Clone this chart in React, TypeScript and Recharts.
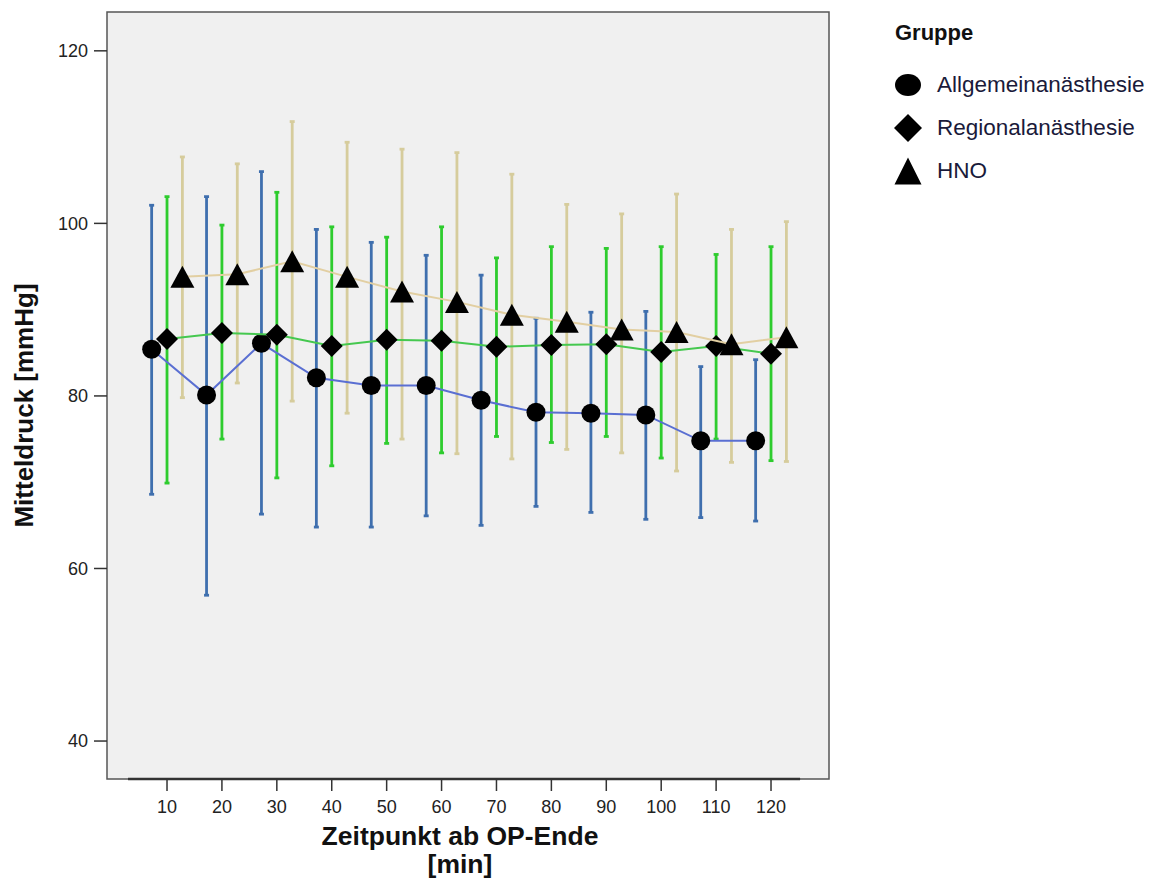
import React from "react";
import {
  ScatterChart,
  Scatter,
  XAxis,
  YAxis,
  CartesianGrid,
  ErrorBar,
  ReferenceArea,
  ReferenceLine,
  Legend,
  Label,
} from "recharts";

// Zeitpunkte (min) ab OP-Ende
const TIMES = [10, 20, 30, 40, 50, 60, 70, 80, 90, 100, 110, 120];
const Y_TICKS = [40, 60, 80, 100, 120];

// Mittelwerte und Fehlerbalken (unten / oben) je Gruppe, mmHg
const allgMean = [85.4, 80.1, 86.1, 82.1, 81.2, 81.2, 79.5, 78.1, 78.0, 77.8, 74.8, 74.8];
const allgLow = [68.6, 56.9, 66.3, 64.8, 64.8, 66.1, 65.0, 67.2, 66.5, 65.7, 65.9, 65.5];
const allgHigh = [102.1, 103.1, 106.0, 99.3, 97.8, 96.3, 94.0, 89.0, 89.7, 89.8, 83.4, 84.2];

const regMean = [86.6, 87.3, 87.1, 85.8, 86.5, 86.4, 85.7, 85.9, 86.0, 85.1, 85.8, 84.9];
const regLow = [69.9, 75.0, 70.5, 71.9, 74.5, 73.4, 75.3, 74.6, 75.3, 72.8, 75.0, 72.5];
const regHigh = [103.1, 99.8, 103.6, 99.6, 98.4, 99.6, 96.0, 97.3, 97.1, 97.3, 96.4, 97.3];

const hnoMean = [93.8, 94.1, 95.6, 93.8, 92.1, 90.9, 89.4, 88.6, 87.7, 87.4, 86.0, 86.8];
const hnoLow = [79.8, 81.5, 79.4, 78.0, 75.0, 73.3, 72.7, 73.8, 73.4, 71.3, 72.3, 72.4];
const hnoHigh = [107.7, 106.9, 111.8, 109.4, 108.6, 108.2, 105.7, 102.2, 101.1, 103.4, 99.3, 100.2];

const GROUPS = ["Allgemeinanästhesie", "Regionalanästhesie", "HNO"];

// side-by-side dodge of the three groups (in minutes)
const DODGE = 2.8;
const X_DOMAIN: [number, number] = [-0.93, 130.56];
const Y_DOMAIN: [number, number] = [35.6, 124.5];

const FONT = '"Liberation Sans", Arial, sans-serif';

function build(mean: number[], low: number[], high: number[], shift: number) {
  return TIMES.map((t, i) => ({
    x: t + shift,
    y: mean[i],
    err: [mean[i] - low[i], high[i] - mean[i]],
  }));
}

const allgData = build(allgMean, allgLow, allgHigh, -DODGE);
const regData = build(regMean, regLow, regHigh, 0);
const hnoData = build(hnoMean, hnoLow, hnoHigh, DODGE);

function CircleMark({ cx, cy, r = 9.5 }: any) {
  return <ellipse cx={cx} cy={cy} rx={r} ry={r} fill="#000" />;
}

function DiamondMark({ cx, cy, s = 11 }: any) {
  return (
    <polygon
      points={`${cx},${cy - s} ${cx + s},${cy} ${cx},${cy + s} ${cx - s},${cy}`}
      fill="#000"
    />
  );
}

function TriangleMark({ cx, cy, w = 24, h = 22 }: any) {
  return (
    <polygon
      points={`${cx},${cy - h / 2} ${cx + w / 2},${cy + h / 2} ${cx - w / 2},${cy + h / 2}`}
      fill="#000"
    />
  );
}

function LegendIcon({ idx }: { idx: number }) {
  return (
    <svg width={32} height={32} style={{ position: "absolute", left: 12, top: -16 }}>
      {idx === 0 && <ellipse cx={16} cy={16} rx={13} ry={11} fill="#000" />}
      {idx === 1 && <DiamondMark cx={16} cy={16} s={14} />}
      {idx === 2 && <TriangleMark cx={16} cy={16} w={27} h={27} />}
    </svg>
  );
}

function GroupLegend() {
  return (
    <div style={{ position: "relative", width: 270, height: 200, fontFamily: FONT }}>
      <div
        style={{
          position: "absolute",
          left: 15,
          top: 20,
          fontSize: 22,
          lineHeight: "26px",
          fontWeight: "bold",
          color: "#111",
        }}
      >
        Gruppe
      </div>
      {GROUPS.map((g, i) => (
        <div key={g} style={{ position: "absolute", left: 0, top: 85 + i * 43 }}>
          <LegendIcon idx={i} />
          <div
            style={{
              position: "absolute",
              left: 57,
              top: -13,
              fontSize: 22.5,
              lineHeight: "26px",
              whiteSpace: "nowrap",
              color: "#1a1a3a",
            }}
          >
            {g}
          </div>
        </div>
      ))}
    </div>
  );
}

const TICK = { fill: "#222", fontSize: 18, fontFamily: FONT };

export default function App() {
  return (
    <div
      style={{
        position: "absolute",
        left: 0,
        top: 0,
        width: 1150,
        height: 879,
        background: "#fff",
        fontFamily: FONT,
      }}
    >
      <ScatterChart
        width={1150}
        height={879}
        margin={{ top: 12, right: 321, left: 0, bottom: 0 }}
      >
        <CartesianGrid fill="#f0f0f0" horizontal={false} vertical={false} />
        <XAxis
          type="number"
          dataKey="x"
          domain={X_DOMAIN}
          ticks={TIMES}
          allowDataOverflow
          height={100}
          axisLine={false}
          tickLine={{ stroke: "#333", strokeWidth: 1.5 }}
          tickSize={12}
          tickMargin={9}
          tick={TICK}
          interval={0}
        >
          <Label
            content={({ viewBox }: any) => {
              const cx = viewBox.x + viewBox.width / 2 - 8;
              return (
                <text
                  textAnchor="middle"
                  fontFamily={FONT}
                  fontSize={26.5}
                  fontWeight="bold"
                  fill="#111"
                >
                  <tspan x={cx} y={viewBox.y + 66}>
                    Zeitpunkt ab OP-Ende
                  </tspan>
                  <tspan x={cx} y={viewBox.y + 94}>
                    [min]
                  </tspan>
                </text>
              );
            }}
          />
        </XAxis>
        <YAxis
          type="number"
          dataKey="y"
          domain={Y_DOMAIN}
          ticks={Y_TICKS}
          allowDataOverflow
          width={107}
          axisLine={false}
          tickLine={{ stroke: "#333", strokeWidth: 1.5 }}
          tickSize={13}
          tickMargin={6}
          tick={TICK}
        >
          <Label
            content={({ viewBox }: any) => {
              const cy = viewBox.y + viewBox.height / 2 + 10;
              const cx = 33;
              return (
                <text
                  x={cx}
                  y={cy}
                  transform={`rotate(-90 ${cx} ${cy})`}
                  textAnchor="middle"
                  fontFamily={FONT}
                  fontSize={26}
                  fontWeight="bold"
                  fill="#111"
                >
                  Mitteldruck [mmHg]
                </text>
              );
            }}
          />
        </YAxis>
        <ReferenceArea
          x1={X_DOMAIN[0]}
          x2={X_DOMAIN[1]}
          y1={Y_DOMAIN[0]}
          y2={Y_DOMAIN[1]}
          fill="none"
          fillOpacity={0}
          stroke="#555"
          strokeWidth={1.5}
        />
        <ReferenceLine
          segment={[
            { x: 2.9, y: Y_DOMAIN[0] },
            { x: 125.3, y: Y_DOMAIN[0] },
          ]}
          stroke="#333"
          strokeWidth={2.5}
        />
        <Scatter
          name={GROUPS[0]}
          data={allgData}
          line={{ stroke: "#5a6fd2", strokeWidth: 2 }}
          lineType="joint"
          shape={(p: any) => <CircleMark cx={p.cx} cy={p.cy} />}
          isAnimationActive={false}
        >
          <ErrorBar dataKey="err" direction="y" width={2.5} stroke="#3f6fae" strokeWidth={2.8} />
        </Scatter>
        <Scatter
          name={GROUPS[1]}
          data={regData}
          line={{ stroke: "#45c84f", strokeWidth: 2 }}
          lineType="joint"
          shape={(p: any) => <DiamondMark cx={p.cx} cy={p.cy} />}
          isAnimationActive={false}
        >
          <ErrorBar dataKey="err" direction="y" width={2.5} stroke="#2ecc2e" strokeWidth={2.8} />
        </Scatter>
        <Scatter
          name={GROUPS[2]}
          data={hnoData}
          line={{ stroke: "#e2cfa2", strokeWidth: 2 }}
          lineType="joint"
          shape={(p: any) => <TriangleMark cx={p.cx} cy={p.cy} />}
          isAnimationActive={false}
        >
          <ErrorBar dataKey="err" direction="y" width={2.5} stroke="#d6cc9c" strokeWidth={2.8} />
        </Scatter>
        <Legend
          layout="horizontal"
          verticalAlign="middle"
          align="center"
          wrapperStyle={{ top: 0, left: 880, width: 270, height: 200 }}
          content={() => <GroupLegend />}
        />
      </ScatterChart>
    </div>
  );
}
